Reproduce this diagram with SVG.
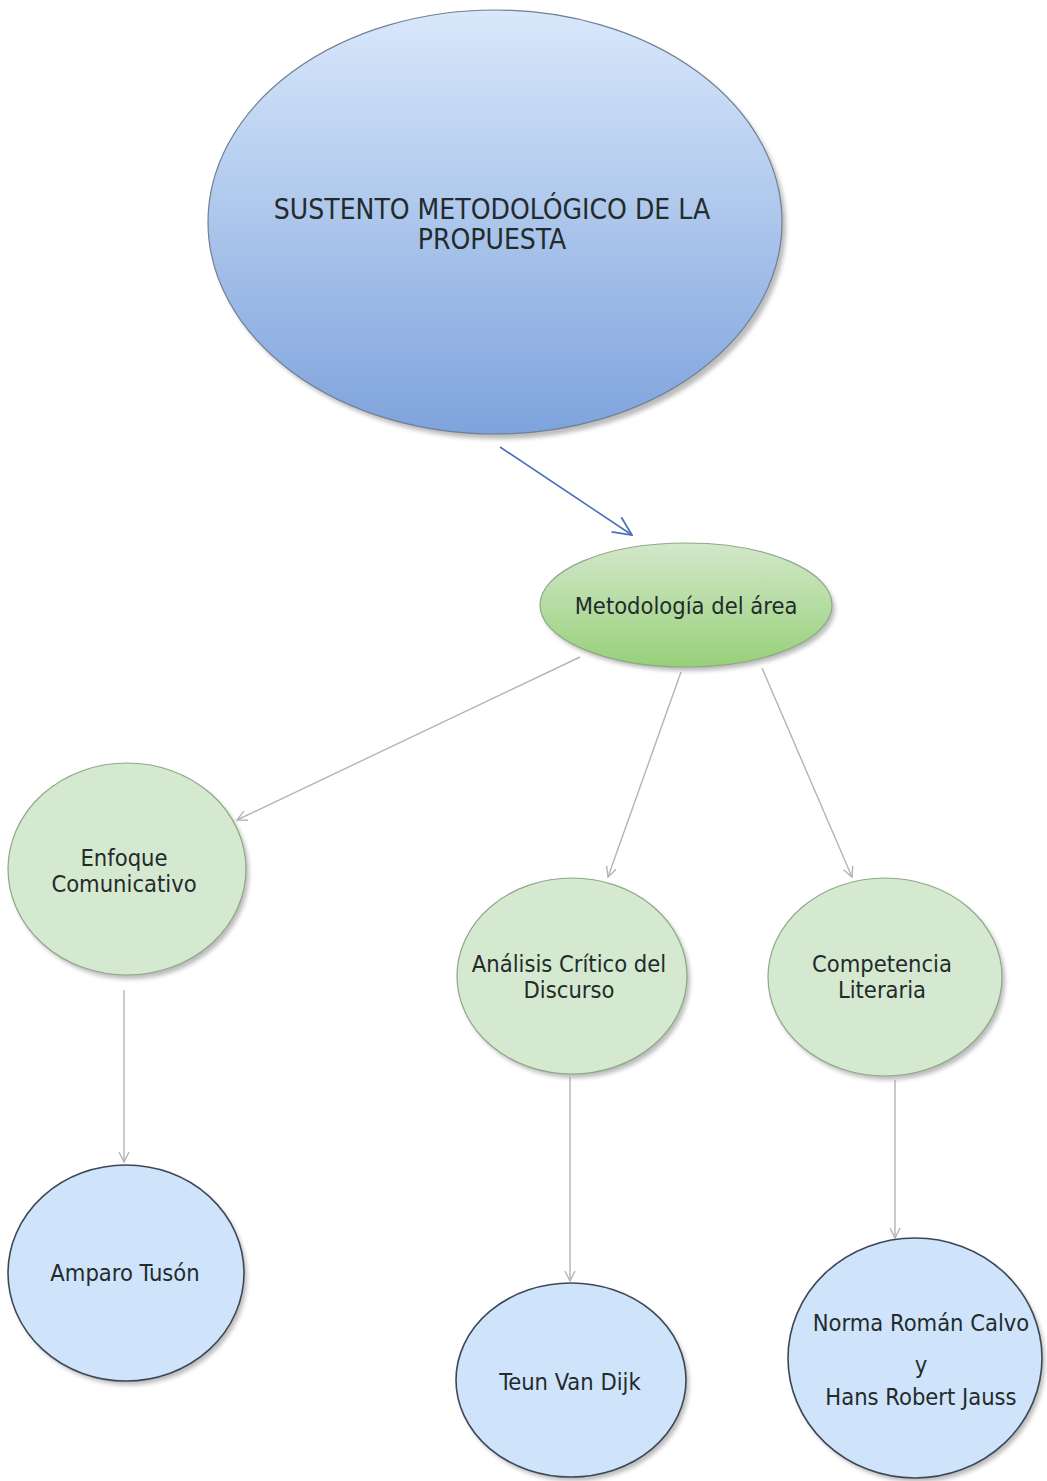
<svg xmlns="http://www.w3.org/2000/svg" width="1047" height="1481" viewBox="0 0 1047 1481">
  <style>
    .lbl { font-family: "DejaVu Sans Condensed", "DejaVu Sans", "Liberation Sans", sans-serif; font-stretch: condensed; fill: #232b2b; text-anchor: middle; }
    .big { font-size: 28px; }
    .mid { font-size: 23.5px; }
    .shadow { fill: #8f8f8f; opacity: 0.6; filter: url(#soft); }
    .green { fill: #d5e8d0; stroke: #8da987; stroke-width: 1.2; }
    .blue { fill: #cfe4fb; stroke: #3d4856; stroke-width: 1.6; }
    .link { stroke: #b4b4b4; stroke-width: 1.4; fill: none; marker-end: url(#grayHead); }
  </style>
  <defs>
    <linearGradient id="topGrad" x1="0" y1="0" x2="0" y2="1">
      <stop offset="0" stop-color="#d9e8fb"/>
      <stop offset="1" stop-color="#7ea3dc"/>
    </linearGradient>
    <linearGradient id="greenGrad" x1="0" y1="0" x2="0" y2="1">
      <stop offset="0" stop-color="#d3e8cb"/>
      <stop offset="1" stop-color="#97d079"/>
    </linearGradient>
    <filter id="soft" x="-10%" y="-10%" width="120%" height="120%">
      <feGaussianBlur stdDeviation="2"/>
    </filter>
    <marker id="grayHead" viewBox="0 0 12 12" refX="11" refY="6" markerWidth="12" markerHeight="12" markerUnits="userSpaceOnUse" orient="auto">
      <path d="M1,1 L11,6 L1,11" fill="none" stroke="#b4b4b4" stroke-width="1.4"/>
    </marker>
    <marker id="blueHead" viewBox="0 0 20 20" refX="19" refY="10" markerWidth="22" markerHeight="22" markerUnits="userSpaceOnUse" orient="auto">
      <path d="M2,2 L19,10 L2,18" fill="none" stroke="#4a72b8" stroke-width="1.6"/>
    </marker>
  </defs>

  <rect width="1047" height="1481" fill="#ffffff"/>

  <!-- connectors -->
  <g id="connectors">
    <line x1="500" y1="447" x2="632" y2="535" stroke="#4a72b8" stroke-width="1.6" marker-end="url(#blueHead)"/>
    <line class="link" x1="580" y1="657" x2="237" y2="820"/>
    <line class="link" x1="681" y1="672" x2="608" y2="877"/>
    <line class="link" x1="762" y1="668" x2="852" y2="877"/>
    <line class="link" x1="124" y1="990" x2="124" y2="1162"/>
    <line class="link" x1="570" y1="1077" x2="570" y2="1281"/>
    <line class="link" x1="895" y1="1080" x2="895" y2="1238"/>
  </g>

  <!-- root concept -->
  <g id="node-sustento">
    <ellipse class="shadow" cx="499" cy="227" rx="287" ry="212"/>
    <ellipse cx="495" cy="222" rx="287" ry="212" fill="url(#topGrad)" stroke="#6f7f95" stroke-width="1.2"/>
    <text class="lbl big" x="492" y="219">SUSTENTO METODOLÓGICO DE LA</text>
    <text class="lbl big" x="492" y="249">PROPUESTA</text>
  </g>

  <g id="node-metodologia">
    <ellipse class="shadow" cx="689" cy="609" rx="146" ry="62"/>
    <ellipse cx="686" cy="605" rx="146" ry="62" fill="url(#greenGrad)" stroke="#8da987" stroke-width="1.2"/>
    <text class="lbl mid" x="686" y="614">Metodología del área</text>
  </g>

  <g id="node-enfoque">
    <ellipse class="shadow" cx="130" cy="873" rx="119" ry="106"/>
    <ellipse class="green" cx="127" cy="869" rx="119" ry="106"/>
    <text class="lbl mid" x="124" y="866">Enfoque</text>
    <text class="lbl mid" x="124" y="892">Comunicativo</text>
  </g>

  <g id="node-analisis">
    <ellipse class="shadow" cx="575" cy="980" rx="115" ry="98"/>
    <ellipse class="green" cx="572" cy="976" rx="115" ry="98"/>
    <text class="lbl mid" x="569" y="972">Análisis Crítico del</text>
    <text class="lbl mid" x="569" y="998">Discurso</text>
  </g>

  <g id="node-competencia">
    <ellipse class="shadow" cx="888" cy="981" rx="117" ry="99"/>
    <ellipse class="green" cx="885" cy="977" rx="117" ry="99"/>
    <text class="lbl mid" x="882" y="972">Competencia</text>
    <text class="lbl mid" x="882" y="998">Literaria</text>
  </g>

  <g id="node-amparo">
    <ellipse class="shadow" cx="129" cy="1277" rx="118" ry="108"/>
    <ellipse class="blue" cx="126" cy="1273" rx="118" ry="108"/>
    <text class="lbl mid" x="125" y="1281">Amparo Tusón</text>
  </g>

  <g id="node-vandijk">
    <ellipse class="shadow" cx="574" cy="1384" rx="115" ry="97"/>
    <ellipse class="blue" cx="571" cy="1380" rx="115" ry="97"/>
    <text class="lbl mid" x="570" y="1390">Teun Van Dijk</text>
  </g>

  <g id="node-norma">
    <ellipse class="shadow" cx="918" cy="1362" rx="127" ry="120"/>
    <ellipse class="blue" cx="915" cy="1358" rx="127" ry="120"/>
    <text class="lbl mid" x="921" y="1331">Norma Román Calvo</text>
    <text class="lbl mid" x="921" y="1373">y</text>
    <text class="lbl mid" x="921" y="1405">Hans Robert Jauss</text>
  </g>
</svg>
